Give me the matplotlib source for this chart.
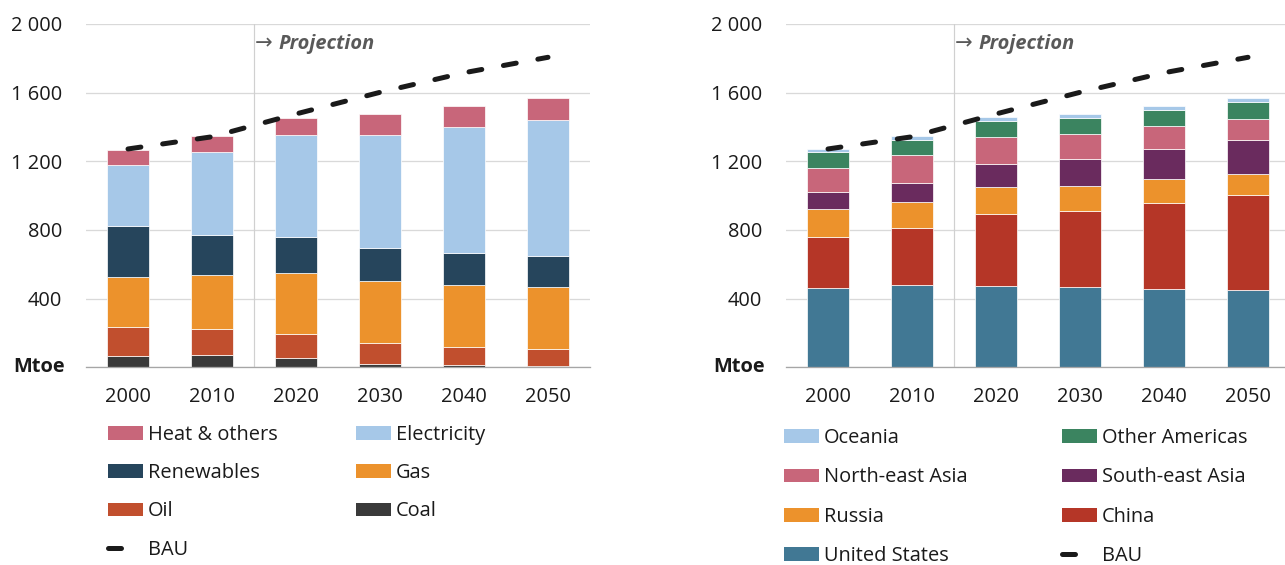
import matplotlib
matplotlib.use("Agg")
import matplotlib.pyplot as plt
from matplotlib.patches import Patch
from matplotlib.lines import Line2D
import numpy as np

plt.rcParams['font.family'] = ['Open Sans', 'DejaVu Sans']

# ---------------- data ----------------
years = ["2000", "2010", "2020", "2030", "2040", "2050"]
bau = [1272, 1343, 1476, 1602, 1716, 1806]

# left chart: by fuel (Mtoe), bottom -> top
coal = [66, 72, 54, 19, 12, 6]
oil = [170, 153, 142, 124, 106, 101]
gas = [290, 313, 353, 360, 361, 361]
renewables = [299, 233, 210, 192, 187, 180]
electricity = [355, 485, 592, 660, 734, 792]
heat_others = [86, 89, 101, 120, 122, 129]

fuel_names = ["Coal", "Oil", "Gas", "Renewables", "Electricity", "Heat & others"]
fuel_values = [coal, oil, gas, renewables, electricity, heat_others]
fuel_colors = ["#3A3A3A", "#C14F2E", "#EC922C", "#26455C", "#A6C8E8", "#C8667A"]

# right chart: by region (Mtoe), bottom -> top
united_states = [460, 478, 473, 466, 454, 448]
china = [301, 335, 422, 446, 501, 554]
russia = [163, 148, 155, 144, 142, 126]
south_east_asia = [95, 112, 136, 159, 176, 198]
north_east_asia = [144, 162, 155, 142, 131, 120]
other_americas = [93, 91, 92, 93, 93, 97]
oceania = [17, 19, 23, 23, 23, 24]

region_names = ["United States", "China", "Russia", "South-east Asia",
                "North-east Asia", "Other Americas", "Oceania"]
region_values = [united_states, china, russia, south_east_asia,
                 north_east_asia, other_americas, oceania]
region_colors = ["#417894", "#B53627", "#EC922C", "#6A2B5E",
                 "#C8667A", "#3B8460", "#A6C8E8"]

yticks = [0, 400, 800, 1200, 1600, 2000]
ytick_labels = ["", "400", "800", "1 200", "1 600", "2 000"]

# ---------------- layout ----------------
W, H = 1285, 565
DPI = 100
PX = 72.0 / DPI  # points per pixel
FS = 14.4

fig = plt.figure(figsize=(W / DPI, H / DPI), dpi=DPI)
ax_bottom_px, ax_top_px = 367.3, 24.0
ax1 = fig.add_axes([86 / W, (H - ax_bottom_px) / H, 504 / W, (ax_bottom_px - ax_top_px) / H])
ax2 = fig.add_axes([786 / W, (H - ax_bottom_px) / H, 499 / W, (ax_bottom_px - ax_top_px) / H])

dash = (0, (2.6, 4.4))
BAU_COLOR = "#1A1A1A"
BAU_LW = 5 * PX
TEXT_GRAY = "#595959"


def draw(ax, names, values, colors, xmax):
    x = np.arange(len(years))
    bottom = np.zeros(len(years))
    handles = {}
    for n, v, c in zip(names, values, colors):
        ax.bar(x, v, width=0.5, bottom=bottom, color=c, edgecolor="#FFFFFF",
               linewidth=0.5, zorder=3)
        bottom += np.array(v)
        handles[n] = Patch(facecolor=c, edgecolor="none")
    ax.plot(x, bau, color=BAU_COLOR, lw=BAU_LW, linestyle=dash,
            dash_capstyle="round", zorder=4)
    handles["BAU"] = Line2D([], [], color=BAU_COLOR, lw=BAU_LW,
                            linestyle=(0, (2.6, 20)), dash_capstyle="round")
    ax.set_xlim(-0.5, xmax)
    ax.set_ylim(0, 2000)
    ax.set_yticks(yticks)
    ax.set_yticklabels(ytick_labels)
    ax.set_xticks(x)
    ax.set_xticklabels(years)
    ax.tick_params(axis="both", length=0, labelsize=FS, colors="#1A1A1A")
    ax.tick_params(axis="y", pad=24 * PX)
    ax.tick_params(axis="x", pad=20 * PX)
    for s in ["top", "right", "left"]:
        ax.spines[s].set_visible(False)
    ax.spines["bottom"].set_color("#A6A6A6")
    ax.spines["bottom"].set_linewidth(1.3 * PX)
    ax.spines["bottom"].set_zorder(5)
    ax.grid(axis="y", color="#D9D9D9", linewidth=1.3 * PX, zorder=0)
    ax.set_axisbelow(True)
    ax.axvline(1.5, color="#D0D0D0", lw=1.2 * PX, zorder=1)
    ax.annotate("Mtoe", xy=(0, 0), xycoords="axes fraction",
                xytext=(-21 * PX, 0), textcoords="offset points",
                ha="right", va="center", fontsize=FS, fontweight="bold",
                color="#1A1A1A")
    ax.annotate("→", xy=(1.5, 1853), xytext=(1 * PX, 0), textcoords="offset points",
                ha="left", va="baseline", fontsize=FS * 1.05, color=TEXT_GRAY,
                family=["DejaVu Sans"])
    ax.annotate("Projection", xy=(1.5, 1853), xytext=(24 * PX, 0),
                textcoords="offset points", ha="left", va="baseline",
                fontsize=FS, color=TEXT_GRAY, fontweight="bold", fontstyle="italic")
    return handles


h1 = draw(ax1, fuel_names, fuel_values, fuel_colors, 5.5)
h2 = draw(ax2, region_names, region_values, region_colors, -0.5 + 499 / 84)


def column_legend(handles, labels, x_px, top_px, spacing):
    fig.legend([handles[l] for l in labels], labels,
               loc="upper left",
               bbox_to_anchor=(x_px / W, 1 - top_px / H),
               bbox_transform=fig.transFigure,
               frameon=False, fontsize=FS, borderpad=0, borderaxespad=0,
               handlelength=35 / (FS / PX), handleheight=13.3 / (FS / PX),
               handletextpad=5 / (FS / PX), labelspacing=spacing,
               labelcolor="#1A1A1A")


column_legend(h1, ["Heat & others", "Renewables", "Oil", "BAU"], 108, 425, 0.91)
column_legend(h1, ["Electricity", "Gas", "Coal"], 356, 425, 0.91)
column_legend(h2, ["Oceania", "North-east Asia", "Russia", "United States"], 784, 428, 0.97)
column_legend(h2, ["Other Americas", "South-east Asia", "China", "BAU"], 1062, 428, 0.97)

fig.savefig("out.png", dpi=DPI)
